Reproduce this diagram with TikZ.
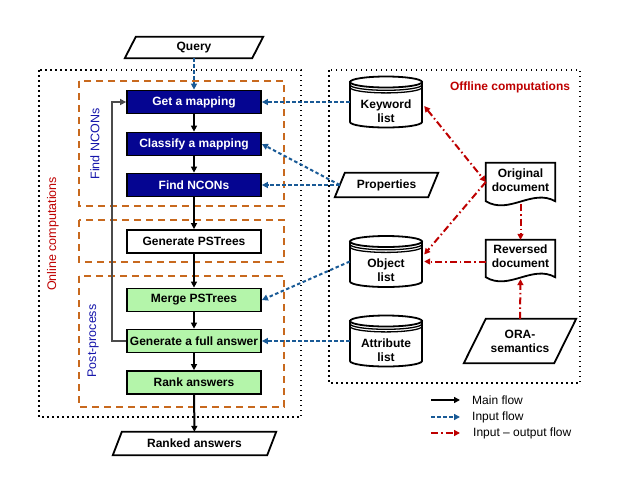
\documentclass[tikz,border=0pt]{standalone}
\usepackage{fontspec}
\setmainfont{Liberation Sans}
\usetikzlibrary{arrows.meta,calc}
\definecolor{navyfill}{RGB}{5,5,145}
\definecolor{inblue}{RGB}{25,90,150}
\definecolor{grporange}{RGB}{200,105,30}
\definecolor{iored}{RGB}{190,0,0}
\definecolor{pgreen}{RGB}{180,245,170}
\definecolor{lblue}{RGB}{20,20,170}
\definecolor{loopgray}{RGB}{75,75,75}
\tikzset{
  tip/.style={-{Triangle[length=6pt,width=6pt]}},
  mainflow/.style={tip, line width=2pt, black},
  inflow/.style={tip, line width=2pt, inblue, dash pattern=on 3.5pt off 2.5pt},
  ioflow/.style={-{Triangle[length=6pt,width=6pt]}, line width=2pt, iored, dash pattern=on 7pt off 3pt on 1.5pt off 3pt},
  iobidir/.style={{Triangle[length=6pt,width=6pt]}-{Triangle[length=6pt,width=6pt]}, line width=2pt, iored, dash pattern=on 7pt off 3pt on 1.5pt off 3pt},
  loopflow/.style={-{Triangle[length=6pt,width=6pt]}, line width=1.6pt, loopgray},
  procbox/.style={draw=black, line width=1.8pt, minimum width=134pt, minimum height=23pt, inner sep=0pt, font=\fontsize{12}{14}\selectfont\bfseries},
  navybox/.style={procbox, fill=navyfill, text=white},
  whitebox/.style={procbox, fill=white},
  greenbox/.style={procbox, fill=pgreen},
  plain/.style={inner sep=0pt, align=center, font=\fontsize{12}{14}\selectfont\bfseries},
  grpbox/.style={draw=grporange, line width=1.8pt, dash pattern=on 7pt off 5pt},
  areabox/.style={draw=black, line width=1.8pt, dash pattern=on 1.5pt off 3.5pt},
  shapeline/.style={draw=black, line width=1.8pt, fill=white},
  rotlabel/.style={rotate=90, font=\fontsize{12.5}{14}\selectfont},
}
\newcommand\paragram[2]{% name, slant
  \path[shapeline] ([xshift=#2pt]#1.north west) -- (#1.north east) -- ([xshift=-#2pt]#1.south east) -- (#1.south west) -- cycle;}
\newcommand\dbcyl[4]{% name, x, y, text
  \node[minimum width=72pt, minimum height=51pt, inner sep=0pt] (#1) at (#2,#3) {};
  \path[shapeline] (#2-36,#3-20) -- (#2-36,#3+20) arc[start angle=180, end angle=360, x radius=36pt, y radius=5.5pt] -- (#2+36,#3-20) -- cycle;
  \draw[line width=1.8pt, fill=white] (#2,#3-20) ellipse [x radius=36pt, y radius=5.5pt];
  \draw[line width=1.3pt] (#2-36,#3-17.2) arc[start angle=180, end angle=360, x radius=36pt, y radius=5.5pt];
  \draw[line width=1.3pt] (#2-36,#3-14.6) arc[start angle=180, end angle=360, x radius=36pt, y radius=5.5pt];
  \node[plain] (#1-t) at (#2,#3+9) {#4};}
\newcommand\docshape[1]{%
  \path[shapeline] (#1.south west) -- (#1.north west) -- (#1.north east) -- (#1.south east)
    .. controls ($(#1.south east)+(-23,-13)$) and ($(#1.south west)+(23,14)$) .. (#1.south west) -- cycle;}
\begin{document}
\begin{tikzpicture}[x=1pt,y=-1pt]
\useasboundingbox (0,0) rectangle (621,491);

% areas
\path[areabox] (39,70) rectangle (301,417);
\path[areabox] (329,70) rectangle (580,383);
\path[grpbox] (79,81) rectangle (284,206);
\path[grpbox] (79,220) rectangle (284,262);
\path[grpbox] (79,276) rectangle (284,407);

\node[rotlabel, text=iored] (onl) at (53,234) {Online computations};
\node[rotlabel, text=lblue] (fnl) at (95,144) {Find NCONs};
\node[rotlabel, text=lblue] (ppl) at (93,341) {Post-process};
\node[plain, text=iored] (offl) at (510,87) {Offline computations};

% query and answers
\node[minimum width=138pt, minimum height=21pt, inner sep=0pt] (q) at (194,47.5) {};
\paragram{q}{11}
\node[plain] (q-t) at (q.center) {Query};
\node[minimum width=163pt, minimum height=23pt, inner sep=0pt] (ra) at (194.5,443.5) {};
\paragram{ra}{9}
\node[plain] (ra-t) at (ra.center) {Ranked answers};

% process boxes
\node[navybox] (gm) at (194,102) {Get a mapping};
\node[navybox] (cm) at (194,144) {Classify a mapping};
\node[navybox] (fn) at (194,185) {Find NCONs};
\node[whitebox] (gp) at (194,241.5) {Generate PSTrees};
\node[greenbox] (mp) at (194,300) {Merge PSTrees};
\node[greenbox] (gf) at (194,341) {Generate a full answer};
\node[greenbox] (rk) at (194,382.5) {Rank answers};

% right side data
\dbcyl{kw}{386}{102}{Keyword\\list}
\dbcyl{ob}{386}{261.5}{Object\\list}
\dbcyl{at}{386}{341}{Attribute\\list}
\node[minimum width=103pt, minimum height=24pt, inner sep=0pt] (pr) at (386.5,185) {};
\paragram{pr}{10}
\node[plain] (pr-t) at (pr.center) {Properties};

\node[minimum width=69pt, minimum height=38pt, inner sep=0pt] (od) at (520.5,182) {};
\docshape{od}
\node[plain] (od-t) at (520.5,180) {Original\\document};
\node[minimum width=69pt, minimum height=37pt, inner sep=0pt] (rd) at (520.5,258.5) {};
\docshape{rd}
\node[plain] (rd-t) at (520.5,256) {Reversed\\document};
\node[minimum width=112pt, minimum height=44pt, inner sep=0pt] (ora) at (520,341) {};
\paragram{ora}{22}
\node[plain] (ora-t) at (ora.center) {ORA-\\semantics};

% main flow
\draw[mainflow] (gm) -- (cm);
\draw[mainflow] (cm) -- (fn);
\draw[mainflow] (fn) -- (gp);
\draw[mainflow] (gp) -- (mp);
\draw[mainflow] (mp) -- (gf);
\draw[mainflow] (gf) -- (rk);
\draw[mainflow] (rk) -- (ra);
\draw[loopflow] (gf.west) -- ++(-14,0) |- (gm.west);

% input flow
\draw[inflow] (q) -- (gm);
\draw[inflow] (kw.west) -- (gm.east);
\draw[inflow] ([xshift=5pt]pr.west) -- (cm.east);
\draw[inflow] ([xshift=5pt]pr.west) -- (fn.east);
\draw[inflow] (ob.west) -- (mp.east);
\draw[inflow] (at.west) -- (gf.east);

% input-output flow
\draw[iobidir] ([yshift=-4pt,xshift=2pt]kw.east) -- (od.west);
\draw[ioflow] (od.west) -- ([yshift=7pt,xshift=2pt]ob.east);
\draw[ioflow] (rd.west |- ob.east) -- ([xshift=2pt]ob.east);
\draw[ioflow] ([yshift=-3pt]od.south) -- (rd.north);
\draw[ioflow] (ora.north) -- ([yshift=-2pt]rd.south);

% legend
\coordinate (l1a) at (431,400); \coordinate (l1b) at (460,400);
\coordinate (l2a) at (431,417); \coordinate (l2b) at (460,417);
\coordinate (l3a) at (431,433); \coordinate (l3b) at (460,433);
\draw[mainflow] (l1a) -- (l1b);
\draw[inflow] (l2a) -- (l2b);
\draw[ioflow] (l3a) -- (l3b);
\node[anchor=west, inner sep=0pt, font=\fontsize{12}{14}\selectfont] (lt1) at (472,400) {Main flow};
\node[anchor=west, inner sep=0pt, font=\fontsize{12}{14}\selectfont] (lt2) at (472,417) {Input flow};
\node[anchor=west, inner sep=0pt, font=\fontsize{12}{14}\selectfont] (lt3) at (473,433) {Input -- output flow};
\end{tikzpicture}
\end{document}
